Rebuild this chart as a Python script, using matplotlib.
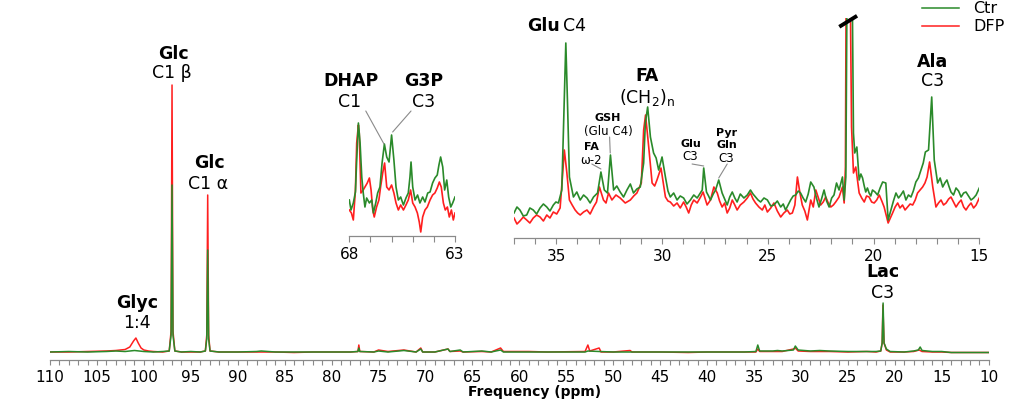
import matplotlib
matplotlib.use("Agg")
import matplotlib.pyplot as plt
import matplotlib.transforms as mtransforms
import numpy as np

W, H = 1012, 404
GREEN = "#2a8a2a"
RED = "#ff1f1f"
GREY = "#8a8a8a"

# ---- full spectrum (ppm, height above baseline in px) ----
main_ctr_ppm = [110, 108, 106, 104, 103, 102, 101.5, 101, 100.5, 100, 99, 98, 97.3, 97.1, 97.0, 96.9, 96.7,
                96, 95, 94, 93.45, 93.3, 93.2, 93.1, 92.95, 92, 90, 88, 87.5, 86, 84, 82, 80, 78, 77.2, 77.1,
                77.0, 75.5, 75, 74, 72.3, 71, 70.5, 70.3, 69, 67.6, 67.4, 66.3, 66, 64, 63, 62, 61.7, 59, 56,
                53, 52.7, 51.5, 50, 48, 45, 42, 40, 38, 36, 34.8, 34.6, 34.4, 33, 32.5, 32, 30.8, 30.6, 30.3,
                29, 28, 27, 25, 23, 22, 21.5, 21.35, 21.25, 21.15, 20.9, 20.5, 19, 18, 17.5, 17.3, 17.1, 16,
                15, 14, 12, 10]
main_ctr_int = [1, 1.5, 1, 1.5, 2, 1.5, 2, 2.5, 2, 1.5, 1, 1.5, 2, 18, 168, 18, 2,
                1, 1.5, 1, 2, 14, 103, 14, 2, 1, 1, 1.5, 2, 1, 1, 1, 1, 1, 1.5, 5,
                1.5, 1, 2, 1, 2.5, 1, 4, 1, 1, 4, 1.5, 3, 1, 2, 1, 3, 1, 1, 1,
                1, 2, 1.5, 1, 1, 1, 1, 1, 1, 1, 1.5, 8, 2, 2, 2.5, 2, 3, 7, 3,
                2, 2.5, 2, 1.5, 1.5, 1.5, 2, 10, 50, 10, 4, 1.5, 1, 2, 3, 6, 2.5, 1.5,
                1.5, 0.5, 0.5, 0.5]
main_dfp_ppm = [110, 108, 106, 104, 103, 102, 101.5, 101.1, 100.85, 100.6, 100.3, 100, 99.5, 99, 98, 97.3,
                97.1, 97.0, 96.9, 96.7, 96, 95, 94, 93.45, 93.3, 93.2, 93.1, 92.95, 92, 90, 88, 86, 84, 82,
                80, 78, 77.2, 77.1, 77.0, 75.5, 75, 74, 72.3, 71, 70.5, 70.3, 69, 67.6, 67.4, 66.3, 66, 64,
                63, 62, 61.7, 59, 57, 53, 52.7, 52.5, 51.5, 51.3, 50, 48.2, 48, 45, 42, 40, 38, 36, 34.8,
                34.6, 34.4, 33, 32, 30.8, 30.6, 30.3, 29, 28, 27, 25, 23, 22, 21.5, 21.35, 21.27, 21.15,
                20.9, 20.5, 19, 18, 17.4, 17.1, 16, 15, 14, 12, 10]
main_dfp_int = [1, 1, 1.5, 2, 2.5, 3.5, 6, 12, 15, 10, 5, 3, 2, 1.5, 1, 2,
                22, 268, 22, 2, 1, 1, 1, 2, 18, 158, 18, 2, 1, 1, 1, 1, 0.5, 1,
                1, 1, 1.5, 8, 1.5, 1, 3, 1.5, 3, 1, 5, 1, 1, 4, 1.5, 2, 1, 1.5,
                1, 5, 1.5, 1.5, 1, 1.5, 8, 2, 5, 1, 1, 2.5, 1, 1, 0.5, 1, 1, 1, 1,
                4, 1.5, 1.5, 1.5, 4, 5, 2, 1.5, 1.5, 1.5, 1, 1.5, 1, 2, 10, 48, 10,
                3, 1, 1, 1.5, 3, 1.5, 1, 1, 0.5, 0.5, 0.5]

# ---- inset 68-63 ppm ----
ins1_ctr_ppm = [68.00, 67.92, 67.81, 67.71, 67.65, 67.57, 67.49, 67.41, 67.34, 67.26, 67.18, 67.05, 66.94,
                66.86, 66.75, 66.66, 66.55, 66.45, 66.34, 66.23, 66.12, 66.00, 65.89, 65.79, 65.68, 65.57,
                65.44, 65.32, 65.21, 65.13, 65.08, 65.00, 64.89, 64.77, 64.66, 64.53, 64.42, 64.29, 64.18,
                64.06, 63.95, 63.84, 63.76, 63.68, 63.58, 63.49, 63.39, 63.30, 63.20, 63.11, 63.00]
ins1_ctr_int = [36, 26, 33, 44, 76, 113, 93, 59, 43, 29, 38, 33, 36,
                23, 33, 43, 49, 73, 92, 79, 74, 101, 76, 49, 36, 39,
                31, 38, 43, 59, 74, 49, 36, 41, 33, 39, 34, 43, 44,
                53, 58, 61, 71, 79, 69, 46, 56, 39, 29, 33, 39]
ins1_dfp_ppm = [68.00, 67.90, 67.81, 67.71, 67.65, 67.57, 67.53, 67.45, 67.34, 67.26, 67.15, 67.05, 66.97,
                66.89, 66.82, 66.71, 66.60, 66.52, 66.42, 66.33, 66.23, 66.12, 66.00, 65.89, 65.79, 65.68,
                65.57, 65.44, 65.32, 65.21, 65.10, 65.00, 64.89, 64.78, 64.69, 64.62, 64.53, 64.42, 64.31,
                64.18, 64.06, 63.95, 63.84, 63.74, 63.65, 63.55, 63.46, 63.36, 63.27, 63.17, 63.08, 63.00]
ins1_dfp_int = [26, 23, 16, 46, 93, 111, 103, 43, 46, 49, 53, 58, 46,
                26, 19, 29, 36, 49, 63, 73, 49, 46, 51, 43, 33, 26,
                31, 26, 31, 36, 46, 33, 29, 23, 14, 4, 19, 26, 29,
                36, 41, 43, 48, 54, 49, 33, 26, 29, 19, 26, 16, 23]

# ---- inset 37-15 ppm ----
ins2_ctr_ppm = [37.0, 36.86, 36.72, 36.56, 36.40, 36.25, 36.09, 35.93, 35.77, 35.61, 35.45, 35.30, 35.14,
                35.02, 34.90, 34.74, 34.63, 34.55, 34.47, 34.38, 34.19, 34.03, 33.87, 33.71, 33.55, 33.40,
                33.24, 33.05, 32.89, 32.73, 32.58, 32.44, 32.29, 32.14, 31.98, 31.82, 31.66, 31.50, 31.35,
                31.19, 31.03, 30.87, 30.79, 30.68, 30.55, 30.40, 30.28, 30.16, 30.00, 29.84, 29.72, 29.61,
                29.45, 29.29, 29.14, 28.98, 28.82, 28.66, 28.50, 28.34, 28.10, 28.03, 27.90, 27.80, 27.71,
                27.58, 27.47, 27.32, 27.16, 27.04, 26.92, 26.80, 26.68, 26.56, 26.45, 26.30, 26.13, 25.97,
                25.82, 25.70, 25.58, 25.46, 25.34, 25.18, 25.02, 24.86, 24.71, 24.55, 24.39, 24.27, 24.16,
                24.04, 23.92, 23.80, 23.68, 23.56, 23.45, 23.33, 23.21, 23.09, 22.97, 22.82, 22.70, 22.58,
                22.46, 22.34, 22.22, 22.10, 21.98, 21.87, 21.75, 21.63, 21.47, 21.39, 21.31, 21.23, 21.04,
                20.95, 20.89, 20.79, 20.68, 20.60, 20.52, 20.44, 20.37, 20.29, 20.21, 20.13, 20.05, 19.93,
                19.81, 19.69, 19.57, 19.42, 19.31, 19.18, 19.06, 18.94, 18.82, 18.71, 18.59, 18.47, 18.35,
                18.23, 18.12, 18.00, 17.88, 17.76, 17.65, 17.55, 17.40, 17.25, 17.13, 16.97, 16.85, 16.73,
                16.63, 16.53, 16.44, 16.34, 16.22, 16.10, 15.98, 15.86, 15.74, 15.63, 15.51, 15.39, 15.27,
                15.15, 15.0]
ins2_ctr_int = [25, 31, 28, 22, 23, 30, 28, 24, 30, 34, 31, 27, 33,
                36, 35, 48, 135, 195, 135, 61, 41, 46, 38, 43, 40, 35,
                41, 45, 66, 48, 45, 83, 48, 52, 46, 41, 48, 54, 45,
                49, 51, 75, 115, 131, 101, 85, 80, 68, 81, 61, 47, 41,
                45, 38, 42, 40, 34, 38, 43, 40, 48, 70, 46, 42, 38,
                44, 48, 58, 45, 39, 33, 41, 46, 40, 36, 44, 40, 43,
                48, 44, 41, 38, 36, 40, 38, 32, 33, 37, 31, 34, 28,
                33, 38, 42, 43, 47, 45, 40, 36, 44, 56, 51, 40, 31,
                39, 48, 37, 31, 40, 43, 55, 48, 61, 38, 61, 330, 330,
                105, 85, 91, 58, 64, 60, 52, 46, 50, 45, 42, 48, 46,
                43, 50, 56, 55, 18, 28, 37, 45, 40, 43, 47, 38, 43,
                41, 47, 56, 60, 68, 75, 86, 88, 141, 78, 55, 60, 51,
                55, 58, 52, 46, 43, 50, 47, 41, 45, 46, 42, 38, 40,
                43, 50]
ins2_dfp_ppm = [37.0, 36.86, 36.72, 36.56, 36.40, 36.25, 36.09, 35.93, 35.77, 35.61, 35.45, 35.30, 35.14,
                34.98, 34.82, 34.71, 34.62, 34.50, 34.38, 34.25, 34.11, 33.99, 33.87, 33.71, 33.55, 33.40,
                33.24, 33.10, 32.96, 32.77, 32.65, 32.53, 32.37, 32.18, 31.98, 31.74, 31.50, 31.34, 31.19,
                30.98, 30.87, 30.78, 30.63, 30.47, 30.35, 30.24, 30.05, 29.84, 29.72, 29.61, 29.45, 29.29,
                29.14, 28.98, 28.86, 28.74, 28.62, 28.50, 28.34, 28.18, 28.06, 27.87, 27.71, 27.55, 27.39,
                27.28, 27.16, 27.04, 26.92, 26.80, 26.68, 26.56, 26.45, 26.30, 26.13, 25.97, 25.82, 25.70,
                25.58, 25.42, 25.26, 25.14, 25.02, 24.86, 24.71, 24.55, 24.39, 24.24, 24.08, 23.96, 23.84,
                23.72, 23.60, 23.48, 23.37, 23.25, 23.13, 22.97, 22.85, 22.73, 22.61, 22.50, 22.38, 22.26,
                22.14, 22.02, 21.90, 21.79, 21.63, 21.47, 21.39, 21.33, 21.28, 21.14, 21.04, 20.95, 20.84,
                20.68, 20.56, 20.44, 20.33, 20.21, 20.09, 19.97, 19.85, 19.73, 19.61, 19.50, 19.31, 19.10,
                18.98, 18.86, 18.75, 18.63, 18.51, 18.39, 18.27, 18.15, 18.03, 17.92, 17.80, 17.68, 17.57,
                17.47, 17.35, 17.20, 17.05, 16.93, 16.81, 16.69, 16.57, 16.45, 16.34, 16.22, 16.10, 15.98,
                15.86, 15.74, 15.63, 15.51, 15.39, 15.27, 15.15, 15.0]
ins2_dfp_int = [20, 14, 17, 21, 18, 15, 20, 23, 21, 17, 23, 20, 26,
                24, 30, 61, 88, 65, 38, 33, 28, 25, 23, 26, 28, 24,
                31, 36, 51, 38, 35, 45, 38, 43, 40, 35, 38, 42, 45,
                55, 108, 123, 91, 55, 52, 58, 70, 41, 37, 36, 32, 35,
                30, 36, 31, 25, 33, 38, 35, 41, 46, 33, 38, 51, 45,
                37, 31, 35, 25, 30, 38, 33, 28, 33, 36, 40, 45, 39,
                35, 31, 28, 33, 26, 30, 35, 27, 21, 25, 28, 24, 25,
                33, 61, 45, 33, 27, 18, 38, 31, 48, 40, 33, 36, 41,
                35, 31, 33, 36, 41, 51, 35, 71, 330, 330, 111, 65, 71,
                45, 40, 36, 42, 41, 36, 35, 38, 43, 37, 31, 15, 25,
                31, 35, 30, 33, 28, 31, 34, 33, 38, 45, 48, 51, 55,
                61, 76, 51, 31, 35, 38, 33, 35, 39, 41, 36, 31, 35,
                38, 31, 28, 32, 35, 30, 33, 40]
CLIPPED_PEAK = 21.2


def px_axes(fig, left, top, right, bottom):
    ax = fig.add_axes([left / W, 1 - bottom / H, (right - left) / W, (bottom - top) / H])
    ax.set_facecolor("none")
    for s in ("left", "right", "top"):
        ax.spines[s].set_visible(False)
    ax.spines["bottom"].set_color(GREY)
    ax.spines["bottom"].set_linewidth(0.9)
    ax.set_yticks([])
    ax.tick_params(axis="x", which="both", direction="out", length=4, width=0.8,
                   color=GREY, labelsize=11, pad=4)
    return ax


def label(ax, x, y, txt, bold=False, size=12.5, **kw):
    ax.text(x, y, txt, ha=kw.pop("ha", "center"), va="center", fontsize=size,
            fontweight="bold" if bold else "normal", clip_on=False, **kw)


def leader(ax, start, end):
    ax.annotate("", xy=end, xytext=start,
                arrowprops=dict(arrowstyle="-", color=GREY, lw=0.8, shrinkA=0, shrinkB=0))


def main():
    plt.rcParams["font.family"] = ["DejaVu Sans"]
    fig = plt.figure(figsize=(W / 100, H / 100), dpi=100)

    # full spectrum
    ax = px_axes(fig, 50, 0, 988.7, 360)
    ax.plot(main_dfp_ppm, main_dfp_int, color=RED, lw=1.1, label="DFP")
    ax.plot(main_ctr_ppm, main_ctr_int, color=GREEN, lw=1.1, label="Ctr")
    ax.set_xlim(110, 10)
    ax.set_ylim(-7, 353)
    ax.set_xticks(np.arange(110, 9, -5))
    ax.set_xticks(np.arange(110, 9, -1), minor=True)
    ax.tick_params(axis="x", which="both", length=3.5)
    ax.set_xlabel("Frequency (ppm)", fontsize=10, fontweight="bold")
    ax.xaxis.set_label_coords((535 - 50) / 938.7, -0.07)

    label(ax, 96.9, 299, "Glc", bold=True)
    label(ax, 97.0, 280, "C1 β")
    label(ax, 93.06, 190, "Glc", bold=True)
    label(ax, 93.17, 169, "C1 α")
    label(ax, 100.73, 50, "Glyc", bold=True)
    label(ax, 100.73, 30, "1:4")
    label(ax, 21.26, 81, "Lac", bold=True)
    label(ax, 21.26, 60, "C3")

    handles = [ax.lines[1], ax.lines[0]]
    fig.legend(handles, ["Ctr", "DFP"], loc="upper left", bbox_to_anchor=(922 / W, 0.997),
               frameon=False, fontsize=11.5, handlelength=2.3, handletextpad=0.9,
               labelspacing=0.2, borderpad=0, borderaxespad=0)

    # inset 68-63
    a1 = px_axes(fig, 349.3, 60, 455, 236)
    a1.plot(ins1_dfp_ppm, ins1_dfp_int, color=RED, lw=1.2)
    a1.plot(ins1_ctr_ppm, ins1_ctr_int, color=GREEN, lw=1.2)
    a1.set_xlim(68, 63)
    a1.set_ylim(0, 176)
    a1.set_xticks(np.arange(68, 62, -1))
    a1.set_xticklabels(["68", "", "", "", "", "63"])
    label(a1, 67.93, 155, "DHAP", bold=True)
    label(a1, 67.97, 134, "C1")
    label(a1, 64.49, 155, "G3P", bold=True)
    label(a1, 64.49, 134, "C3")
    leader(a1, (67.22, 125), (66.36, 92))
    leader(a1, (65.08, 125), (65.95, 104))

    # inset 37-15
    a2 = px_axes(fig, 514, 18, 979.3, 238)
    a2.plot(ins2_dfp_ppm, ins2_dfp_int, color=RED, lw=1.2)
    a2.plot(ins2_ctr_ppm, ins2_ctr_int, color=GREEN, lw=1.2)
    a2.set_xlim(37, 15)
    a2.set_ylim(0, 220)
    a2.set_xticks(np.arange(35, 14, -5))
    a2.set_xticks(np.arange(37, 14, -1), minor=True)
    blend = mtransforms.blended_transform_factory(a2.transData, a2.transAxes)
    a2.plot([CLIPPED_PEAK + 0.42, CLIPPED_PEAK - 0.42], [0.96, 1.01], color="black", lw=2.8,
            transform=blend, clip_on=False, solid_capstyle="butt")

    label(a2, 34.82, 212, "Glu", bold=True, ha="right")
    label(a2, 34.68, 212, "C4", ha="left")
    label(a2, 30.70, 162, "FA", bold=True)
    label(a2, 30.70, 141, r"(CH$_2$)$_\mathregular{n}$")
    label(a2, 32.55, 120, "GSH", bold=True, size=8)
    label(a2, 32.55, 106, "(Glu C4)", size=8.5)
    label(a2, 33.35, 91, "FA", bold=True, size=8)
    label(a2, 33.35, 77, "ω-2", size=8.5)
    label(a2, 28.66, 94, "Glu", bold=True, size=8)
    label(a2, 28.66, 81, "C3", size=8.5)
    label(a2, 26.95, 105, "Pyr", bold=True, size=8)
    label(a2, 26.95, 93, "Gln", bold=True, size=8)
    label(a2, 26.95, 79, "C3", size=8.5)
    label(a2, 17.19, 176, "Ala", bold=True)
    label(a2, 17.19, 157, "C3")
    leader(a2, (33.32, 74), (32.89, 69))
    leader(a2, (32.48, 101), (32.45, 85))
    leader(a2, (28.58, 74), (28.03, 72))
    leader(a2, (26.92, 74), (27.32, 60))

    fig.savefig("out.png", dpi=100)


if __name__ == "__main__":
    main()
